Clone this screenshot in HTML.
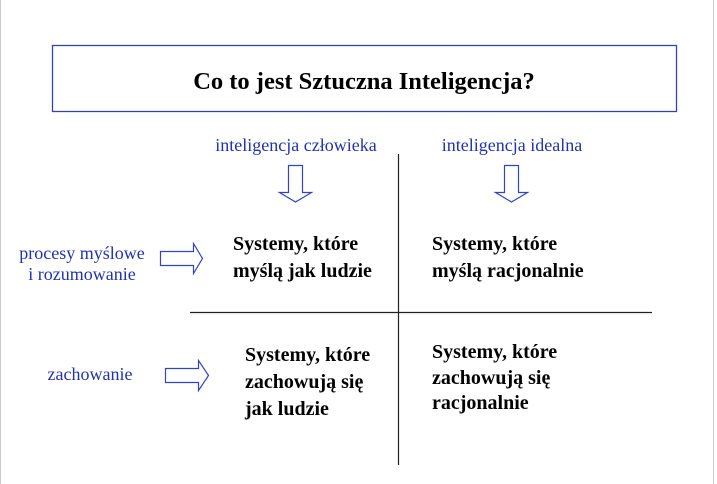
<!DOCTYPE html>
<html><head><meta charset="utf-8"><style>
body{margin:0;background:#fff;}
svg{display:block}
.b{font-family:"Liberation Serif",serif;font-weight:bold;font-size:20px;fill:#000}
.l{font-family:"Liberation Serif",serif;font-size:18px;fill:#2233aa}
</style></head><body>
<svg width="717" height="484" xmlns="http://www.w3.org/2000/svg">
<line x1="0.5" y1="0" x2="0.5" y2="484" stroke="#ccc"/>
<line x1="713.5" y1="0" x2="713.5" y2="484" stroke="#ccc"/>
<rect x="52.5" y="45.5" width="624" height="66" fill="none" stroke="#3344aa" stroke-width="1.3"/>
<text x="364" y="89" text-anchor="middle" style="font-family:'Liberation Serif',serif;font-weight:bold;font-size:24.5px">Co to jest Sztuczna Inteligencja?</text>
<text class="l" x="296" y="151" text-anchor="middle">inteligencja człowieka</text>
<text class="l" x="512" y="151" text-anchor="middle">inteligencja idealna</text>
<line x1="398.5" y1="154" x2="398.5" y2="465" stroke="#222" stroke-width="1.2"/>
<line x1="190" y1="312.5" x2="652" y2="312.5" stroke="#222" stroke-width="1.2"/>
<g fill="none" stroke="#3344bb" stroke-width="1.2">
<polygon points="288.5,165.5 302.5,165.5 302.5,192.5 311.5,192.5 295.5,202 279.5,192.5 288.5,192.5"/>
<polygon points="504.5,165.5 518.5,165.5 518.5,192.5 527.5,192.5 511.5,202 495.5,192.5 504.5,192.5"/>
<polygon points="160.5,251.5 193.5,251.5 193.5,243.5 202.5,258.5 193.5,273.5 193.5,265.5 160.5,265.5"/>
<polygon points="165.5,368.5 198.5,368.5 198.5,360.5 208.5,375.5 198.5,390.5 198.5,382.5 165.5,382.5"/>
</g>
<text class="l" x="82" y="259" text-anchor="middle">procesy myślowe</text>
<text class="l" x="82" y="280" text-anchor="middle">i rozumowanie</text>
<text class="l" x="90" y="380" text-anchor="middle">zachowanie</text>
<text class="b" x="233" y="250">Systemy, które</text>
<text class="b" x="233" y="277">myślą jak ludzie</text>
<text class="b" x="432" y="250">Systemy, które</text>
<text class="b" x="432" y="277">myślą racjonalnie</text>
<text class="b" x="245" y="361">Systemy, które</text>
<text class="b" x="245" y="388">zachowują się</text>
<text class="b" x="245" y="415">jak ludzie</text>
<text class="b" x="432" y="358">Systemy, które</text>
<text class="b" x="432" y="384">zachowują się</text>
<text class="b" x="432" y="409">racjonalnie</text>
</svg>
</body></html>
